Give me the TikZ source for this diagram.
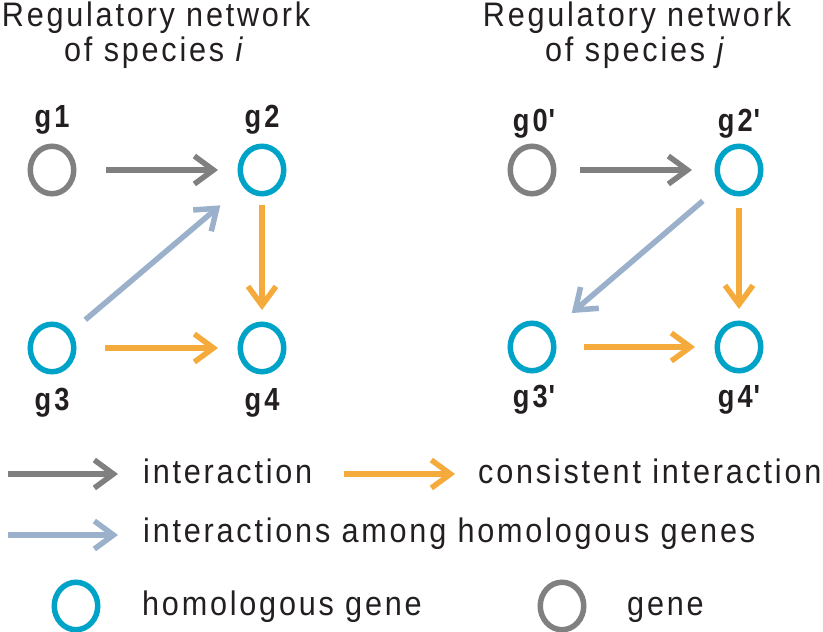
\documentclass[tikz,border=0pt]{standalone}
\usepackage{fontspec}
\usetikzlibrary{arrows.meta,shapes.geometric}
\newfontfamily\txtfont{Liberation Sans}[LetterSpace=8.2,FakeStretch=0.9]
\newfontfamily\labfont{Liberation Sans}[LetterSpace=10,FakeStretch=0.85]
\definecolor{grayc}{HTML}{808080}
\definecolor{cyanc}{HTML}{00A3C8}
\definecolor{orangec}{HTML}{F5AA3C}
\definecolor{bluec}{HTML}{9AB0CB}
\definecolor{txtc}{HTML}{231F20}
\tikzset{
  hom/.style={ellipse, draw=cyanc, line width=5.5pt, minimum width=43.5pt, minimum height=47.5pt, inner sep=0pt},
  gen/.style={hom, draw=grayc},
  arr/.style={line width=5.5pt, -{Straight Barb[length=19pt,width=28pt]}},
  garr/.style={arr, draw=grayc},
  oarr/.style={arr, draw=orangec},
  barr/.style={arr, draw=bluec},
  lab/.style={font=\labfont\bfseries\fontsize{32}{32}\selectfont, text=txtc, anchor=base, inner sep=0pt},
  txt/.style={font=\txtfont\fontsize{34}{36}\selectfont, text=txtc, inner sep=0pt},
}
\begin{document}
\begin{tikzpicture}[x=1pt,y=-1pt]
\useasboundingbox (0,0) rectangle (823,632);
% titles
\node[txt, anchor=base] (ti1) at (156,26) {Regulatory network};
\node[txt, anchor=base] (ti2) at (155,61) {of species \textit{i}};
\node[txt, anchor=base] (tj1) at (637,26) {Regulatory network};
\node[txt, anchor=base] (tj2) at (636,61) {of species \textit{j}};
% species i
\node[gen] (g1) at (52,170) {};
\node[hom] (g2) at (262,170) {};
\node[hom] (g3) at (52,348) {};
\node[hom] (g4) at (262,348) {};
\node[lab] (l1) at (52,127) {g1};
\node[lab] (l2) at (262,127) {g2};
\node[lab] (l3) at (52,410) {g3};
\node[lab] (l4) at (262,410) {g4};
\draw[garr, shorten <=29.5pt, shorten >=19.5pt] (g1) -- (g2);
\draw[oarr, shorten <=28.5pt, shorten >=19.5pt] (g3) -- (g4);
\draw[oarr, shorten <=8.5pt, shorten >=11.5pt] (g2) -- (g4);
\draw[barr, shorten <=18.4pt, shorten >=29.4pt] (g3) -- (g2);
% species j
\node[gen] (h0) at (532,170) {};
\node[hom] (h2) at (739,170) {};
\node[hom] (h3) at (532,347) {};
\node[hom] (h4) at (739,347) {};
\node[lab] (k0) at (534,131) {g0\kern1pt'};
\node[lab] (k2) at (739,131) {g2\kern1pt'};
\node[lab] (k3) at (534,407) {g3\kern1pt'};
\node[lab] (k4) at (739,407) {g4\kern1pt'};
\draw[garr, shorten <=23.5pt, shorten >=22.5pt] (h0) -- (h2);
\draw[oarr, shorten <=27.5pt, shorten >=19.5pt] (h3) -- (h4);
\draw[oarr, shorten <=11.5pt, shorten >=11.5pt] (h2) -- (h4);
\draw[barr, shorten <=22.3pt, shorten >=27pt] (h2) -- (h3);
% legend
\coordinate (lga1) at (8,474);
\coordinate (lga2) at (118,474);
\coordinate (lgo1) at (344,474);
\coordinate (lgo2) at (455,474);
\coordinate (lgb1) at (8,535);
\coordinate (lgb2) at (118,535);
\draw[garr] (lga1) -- (lga2);
\draw[oarr] (lgo1) -- (lgo2);
\draw[barr] (lgb1) -- (lgb2);
\node[txt, anchor=base west] (t1) at (143,483) {interaction};
\node[txt, anchor=base west] (t2) at (478,483) {consistent interaction};
\node[txt, anchor=base west] (t3) at (143,542) {interactions among homologous genes};
\node[hom] (lh) at (76,606) {};
\node[gen] (lg) at (562,606) {};
\node[txt, anchor=base west] (t4) at (142,615) {homologous gene};
\node[txt, anchor=base west] (t5) at (627,615) {gene};
\end{tikzpicture}
\end{document}
